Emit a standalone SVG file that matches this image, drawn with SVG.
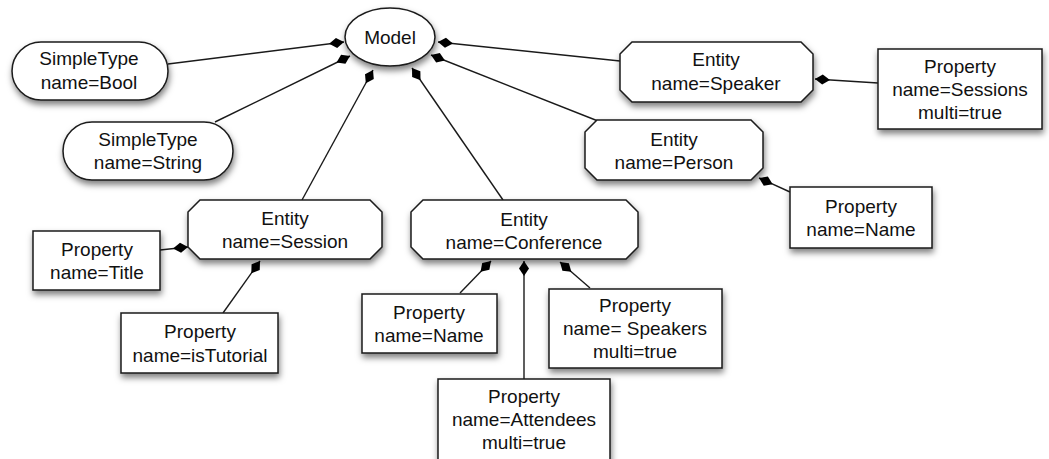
<svg xmlns="http://www.w3.org/2000/svg" width="1049" height="459" viewBox="0 0 1049 459">
<style>
.n{fill:#fff;stroke:#1a1a1a;stroke-width:1.5;filter:url(#sh)}
.t{font-family:"Liberation Sans",Arial,sans-serif;font-size:19px;fill:#111;text-anchor:middle}
.c{stroke:#1a1a1a;stroke-width:1.4;fill:none;marker-end:url(#dm)}
</style>
<defs>
<filter id="sh" x="-20%" y="-20%" width="140%" height="160%">
<feDropShadow dx="1" dy="4" stdDeviation="3" flood-color="#000" flood-opacity="0.5"/>
</filter>
<marker id="dm" viewBox="0 -6 15 12" refX="15" refY="0" markerWidth="15" markerHeight="12" markerUnits="userSpaceOnUse" orient="auto">
<path d="M0,0 L7.5,-5 L15,0 L7.5,5 Z" fill="#000"/>
</marker>
</defs>
<g id="connectors">
<line class="c" x1="168" y1="64" x2="344" y2="42"/>
<line class="c" x1="215" y1="122" x2="350" y2="56"/>
<line class="c" x1="302" y1="200" x2="373" y2="70"/>
<line class="c" x1="503" y1="200" x2="412" y2="68"/>
<line class="c" x1="620" y1="61" x2="438" y2="42"/>
<line class="c" x1="598" y1="121" x2="431" y2="55"/>
<line class="c" x1="878" y1="83" x2="815" y2="79"/>
<line class="c" x1="790" y1="192" x2="759" y2="178"/>
<line class="c" x1="160" y1="250" x2="188" y2="247"/>
<line class="c" x1="223" y1="313" x2="260" y2="261"/>
<line class="c" x1="460" y1="293" x2="491" y2="261"/>
<line class="c" x1="524" y1="379" x2="524" y2="261"/>
<line class="c" x1="590" y1="288" x2="560" y2="262"/>
</g>
<g id="model">
<ellipse class="n" cx="390" cy="37" rx="45" ry="29"/>
<text class="t" x="390" y="44">Model</text>
</g>
<g id="simpletype-bool">
<rect class="n" x="12" y="42" width="156" height="58" rx="29"/>
<text class="t" x="89" y="65">SimpleType</text>
<text class="t" x="89" y="89">name=Bool</text>
</g>
<g id="simpletype-string">
<rect class="n" x="63" y="122" width="170" height="58" rx="29"/>
<text class="t" x="148" y="146">SimpleType</text>
<text class="t" x="148" y="169">name=String</text>
</g>
<g id="entity-speaker">
<polygon class="n" points="632,42 801,42 813,54 813,90 801,102 632,102 620,90 620,54"/>
<text class="t" x="716" y="66">Entity</text>
<text class="t" x="716" y="90">name=Speaker</text>
</g>
<g id="property-sessions">
<rect class="n" x="878" y="49" width="164" height="80"/>
<text class="t" x="960" y="73">Property</text>
<text class="t" x="960" y="96">name=Sessions</text>
<text class="t" x="960" y="119">multi=true</text>
</g>
<g id="entity-person">
<polygon class="n" points="597,120 751,120 763,132 763,168 751,180 597,180 585,168 585,132"/>
<text class="t" x="674" y="146">Entity</text>
<text class="t" x="674" y="169">name=Person</text>
</g>
<g id="property-name-person">
<rect class="n" x="790" y="187" width="142" height="61"/>
<text class="t" x="861" y="213">Property</text>
<text class="t" x="861" y="236">name=Name</text>
</g>
<g id="entity-session">
<polygon class="n" points="200,200 370,200 382,212 382,247 370,259 200,259 188,247 188,212"/>
<text class="t" x="285" y="225">Entity</text>
<text class="t" x="285" y="248">name=Session</text>
</g>
<g id="property-title">
<rect class="n" x="33" y="231" width="127" height="59"/>
<text class="t" x="97" y="256">Property</text>
<text class="t" x="97" y="279">name=Title</text>
</g>
<g id="property-istutorial">
<rect class="n" x="121" y="313" width="157" height="60"/>
<text class="t" x="200" y="338">Property</text>
<text class="t" x="200" y="362">name=isTutorial</text>
</g>
<g id="entity-conference">
<polygon class="n" points="423,200 626,200 638,212 638,247 626,259 423,259 411,247 411,212"/>
<text class="t" x="524" y="226">Entity</text>
<text class="t" x="524" y="249">name=Conference</text>
</g>
<g id="property-name-conference">
<rect class="n" x="362" y="294" width="135" height="59"/>
<text class="t" x="429" y="319">Property</text>
<text class="t" x="429" y="342">name=Name</text>
</g>
<g id="property-speakers">
<rect class="n" x="549" y="289" width="173" height="79"/>
<text class="t" x="635" y="312">Property</text>
<text class="t" x="635" y="335">name= Speakers</text>
<text class="t" x="635" y="358">multi=true</text>
</g>
<g id="property-attendees">
<rect class="n" x="438" y="379" width="172" height="84"/>
<text class="t" x="524" y="403">Property</text>
<text class="t" x="524" y="426">name=Attendees</text>
<text class="t" x="524" y="449">multi=true</text>
</g>
</svg>
